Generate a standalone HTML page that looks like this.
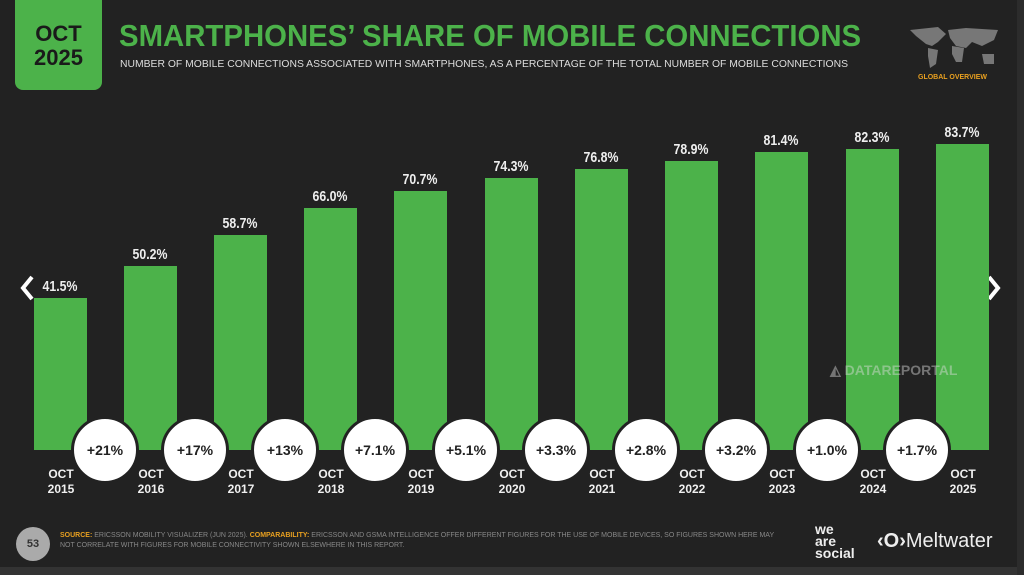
<!DOCTYPE html>
<html><head><meta charset="utf-8"><style>
*{margin:0;padding:0;box-sizing:border-box}
body{width:1024px;height:575px;background:#222;position:relative;overflow:hidden;font-family:"Liberation Sans",sans-serif;color:#eee}
.abs{position:absolute}
.bar{position:absolute;background:#4cb24a;width:53px;bottom:125px}
.val{position:absolute;width:90px;text-align:center;font-size:15px;font-weight:bold;color:#eee;transform:scaleX(0.82)}
.yr{position:absolute;width:60px;text-align:center;font-size:12px;font-weight:bold;line-height:15px;color:#f0f0f0}
.c{position:absolute;width:68px;height:68px;border-radius:50%;background:#fff;border:3px solid #222;color:#222;font-size:14px;font-weight:bold;text-align:center;line-height:62px}
</style></head><body>
<div class="abs" style="left:15px;top:0;width:87px;height:90px;background:#4cb24a;border-radius:0 0 8px 8px;color:#1a1a1a;font-weight:bold;font-size:22px;line-height:24px;text-align:center;padding-top:22px">OCT<br>2025</div>
<div class="abs" style="left:119px;top:18px;font-size:31px;font-weight:bold;color:#4cb24a;white-space:nowrap;transform:scaleX(0.947);transform-origin:0 0">SMARTPHONES’ SHARE OF MOBILE CONNECTIONS</div>
<div class="abs" style="left:120px;top:58px;font-size:10.5px;color:#ddd;white-space:nowrap;transform:scaleX(0.988);transform-origin:0 0">NUMBER OF MOBILE CONNECTIONS ASSOCIATED WITH SMARTPHONES, AS A PERCENTAGE OF THE TOTAL NUMBER OF MOBILE CONNECTIONS</div>
<svg class="abs" style="left:908px;top:24px" width="92" height="48"><g fill="#777"><path d="M2 6 L30 3 L38 10 L30 18 L24 22 L18 20 L8 12Z"/><path d="M20 24 L30 26 L28 40 L22 44 L20 32Z"/><path d="M40 6 L58 4 L90 6 L86 16 L74 22 L64 18 L58 24 L48 22 L42 14Z"/><path d="M44 22 L56 24 L54 38 L48 38 L44 30Z"/><path d="M74 30 L86 30 L86 40 L76 40Z"/></g></svg>
<div class="abs" style="left:918px;top:74px;font-size:7px;font-weight:bold;color:#e8a020">GLOBAL OVERVIEW</div>
<svg class="abs" style="left:18px;top:274px" width="20" height="28"><path d="M14 3 L5 14 L14 25" fill="none" stroke="#fff" stroke-width="4"/></svg>
<svg class="abs" style="left:984px;top:274px" width="20" height="28"><path d="M5 3 L14 14 L5 25" fill="none" stroke="#fff" stroke-width="4"/></svg>

<div class="bar" style="left:34px;height:152px"></div><div class="val" style="left:15px;top:278px">41.5%</div>
<div class="bar" style="left:124px;height:184px"></div><div class="val" style="left:105px;top:246px">50.2%</div>
<div class="bar" style="left:214px;height:215px"></div><div class="val" style="left:195px;top:215px">58.7%</div>
<div class="bar" style="left:304px;height:242px"></div><div class="val" style="left:285px;top:188px">66.0%</div>
<div class="bar" style="left:394px;height:259px"></div><div class="val" style="left:375px;top:171px">70.7%</div>
<div class="bar" style="left:485px;height:272px"></div><div class="val" style="left:466px;top:158px">74.3%</div>
<div class="bar" style="left:575px;height:281px"></div><div class="val" style="left:556px;top:149px">76.8%</div>
<div class="bar" style="left:665px;height:289px"></div><div class="val" style="left:646px;top:141px">78.9%</div>
<div class="bar" style="left:755px;height:298px"></div><div class="val" style="left:736px;top:132px">81.4%</div>
<div class="bar" style="left:846px;height:301px"></div><div class="val" style="left:827px;top:129px">82.3%</div>
<div class="bar" style="left:936px;height:306px"></div><div class="val" style="left:917px;top:124px">83.7%</div>
<div class="abs" style="left:830px;top:362px;font-size:14px;font-weight:bold;color:rgba(220,220,220,0.45)">◭ DATAREPORTAL</div>

<div class="yr" style="left:31px;top:467px">OCT<br>2015</div>
<div class="yr" style="left:121px;top:467px">OCT<br>2016</div>
<div class="yr" style="left:211px;top:467px">OCT<br>2017</div>
<div class="yr" style="left:301px;top:467px">OCT<br>2018</div>
<div class="yr" style="left:391px;top:467px">OCT<br>2019</div>
<div class="yr" style="left:482px;top:467px">OCT<br>2020</div>
<div class="yr" style="left:572px;top:467px">OCT<br>2021</div>
<div class="yr" style="left:662px;top:467px">OCT<br>2022</div>
<div class="yr" style="left:752px;top:467px">OCT<br>2023</div>
<div class="yr" style="left:843px;top:467px">OCT<br>2024</div>
<div class="yr" style="left:933px;top:467px">OCT<br>2025</div>

<div class="c" style="left:71px;top:416px">+21%</div>
<div class="c" style="left:161px;top:416px">+17%</div>
<div class="c" style="left:251px;top:416px">+13%</div>
<div class="c" style="left:341px;top:416px">+7.1%</div>
<div class="c" style="left:432px;top:416px">+5.1%</div>
<div class="c" style="left:522px;top:416px">+3.3%</div>
<div class="c" style="left:612px;top:416px">+2.8%</div>
<div class="c" style="left:702px;top:416px">+3.2%</div>
<div class="c" style="left:793px;top:416px">+1.0%</div>
<div class="c" style="left:883px;top:416px">+1.7%</div>

<div class="abs" style="left:16px;top:527px;width:34px;height:34px;border-radius:50%;background:#aaa;color:#333;font-size:11px;font-weight:bold;text-align:center;line-height:34px">53</div>
<div class="abs" style="left:60px;top:531px;font-size:7px;line-height:10px;color:#888;white-space:nowrap"><b style="color:#e8a020">SOURCE:</b> ERICSSON MOBILITY VISUALIZER (JUN 2025). <b style="color:#e8a020">COMPARABILITY:</b> ERICSSON AND GSMA INTELLIGENCE OFFER DIFFERENT FIGURES FOR THE USE OF MOBILE DEVICES, SO FIGURES SHOWN HERE MAY<br>NOT CORRELATE WITH FIGURES FOR MOBILE CONNECTIVITY SHOWN ELSEWHERE IN THIS REPORT.</div>
<div class="abs" style="left:815px;top:523px;font-size:14px;font-weight:bold;line-height:12px;color:#eee">we<br>are<br>social</div>
<div class="abs" style="left:877px;top:530px;font-size:20px;color:#eee;white-space:nowrap"><b>‹O›</b>Meltwater</div>
<div class="abs" style="left:0;top:567px;width:1024px;height:8px;background:#333"></div>
<div class="abs" style="left:1017px;top:0;width:7px;height:575px;background:#2c2c2c"></div>
</body></html>
